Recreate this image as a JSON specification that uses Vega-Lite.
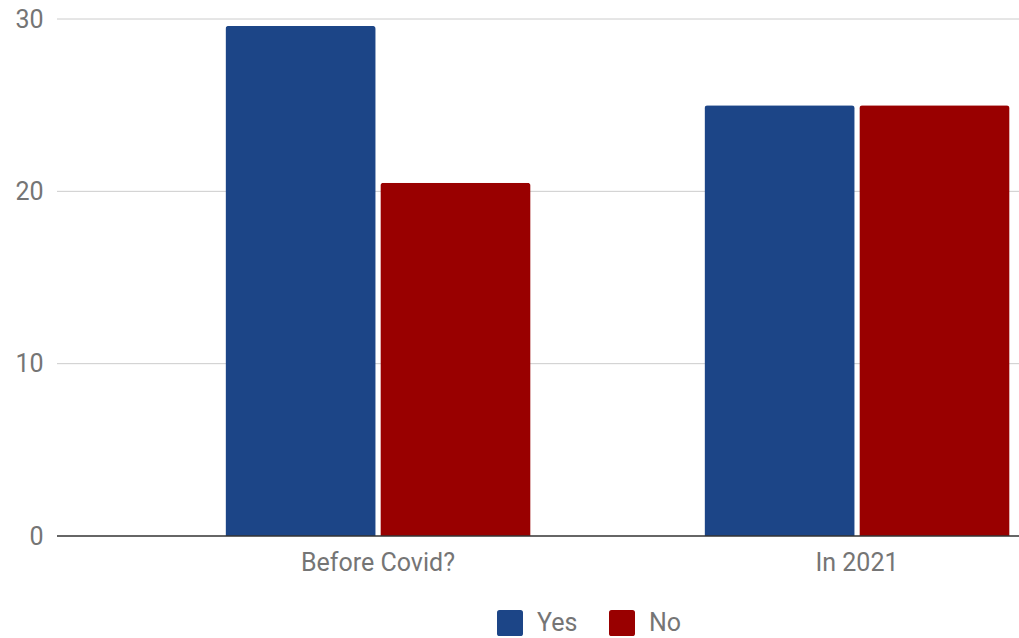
{
  "$schema": "https://vega.github.io/schema/vega-lite/v6.json",
  "width": 962,
  "height": 517,
  "autosize": {"type": "none"},
  "padding": {"left": 57, "top": 19, "right": 0, "bottom": 102},
  "background": "white",
  "config": {
    "view": {"stroke": null},
    "font": "Roboto",
    "axis": {"labelFont": "Roboto", "labelColor": "#757575", "labelFontSize": 25}
  },
  "datasets": {
    "bars": [
      {"period": "Before Covid?", "answer": "Yes", "value": 29.6},
      {"period": "Before Covid?", "answer": "No", "value": 20.5},
      {"period": "In 2021", "answer": "Yes", "value": 25},
      {"period": "In 2021", "answer": "No", "value": 25}
    ],
    "grid": [
      {"value": 10},
      {"value": 20},
      {"value": 30}
    ],
    "baseline": [
      {"value": 0}
    ]
  },
  "layer": [
    {
      "data": {"name": "grid"},
      "mark": {"type": "rule", "color": "#cccccc", "strokeWidth": 1},
      "encoding": {
        "y": {"field": "value", "type": "quantitative"}
      }
    },
    {
      "data": {"name": "bars"},
      "mark": {"type": "bar", "cornerRadiusTopLeft": 3, "cornerRadiusTopRight": 3},
      "encoding": {
        "x": {
          "field": "period",
          "type": "nominal",
          "sort": ["Before Covid?", "In 2021"],
          "scale": {"range": [81.5, 1039.5], "paddingInner": 0.363, "paddingOuter": 0.1815},
          "axis": {"title": null, "labelAngle": 0, "ticks": false, "domain": false, "grid": false, "labelPadding": 14}
        },
        "xOffset": {
          "field": "answer",
          "type": "nominal",
          "sort": ["Yes", "No"],
          "scale": {"paddingInner": 0.03}
        },
        "y": {
          "field": "value",
          "type": "quantitative",
          "scale": {"domain": [0, 30]},
          "axis": {
            "title": null,
            "values": [0, 10, 20, 30],
            "ticks": false,
            "domain": false,
            "grid": false,
            "labelPadding": 14
          }
        },
        "color": {
          "field": "answer",
          "type": "nominal",
          "sort": ["Yes", "No"],
          "scale": {"domain": ["Yes", "No"], "range": ["#1c4587", "#990000"]},
          "legend": {
            "title": null,
            "orient": "none",
            "direction": "horizontal",
            "legendX": 440,
            "legendY": 591,
            "symbolType": "M-1,-0.8Q-1,-1,-0.8,-1L0.8,-1Q1,-1,1,-0.8L1,0.8Q1,1,0.8,1L-0.8,1Q-1,1,-1,0.8Z",
            "symbolSize": 676,
            "symbolStrokeWidth": 0,
            "labelFont": "Roboto",
            "labelFontSize": 25,
            "labelColor": "#757575",
            "labelOffset": 14,
            "columnPadding": 31
          }
        }
      }
    },
    {
      "data": {"name": "baseline"},
      "mark": {"type": "rule", "color": "#333333", "strokeWidth": 1.6},
      "encoding": {
        "y": {"field": "value", "type": "quantitative"}
      }
    }
  ]
}
